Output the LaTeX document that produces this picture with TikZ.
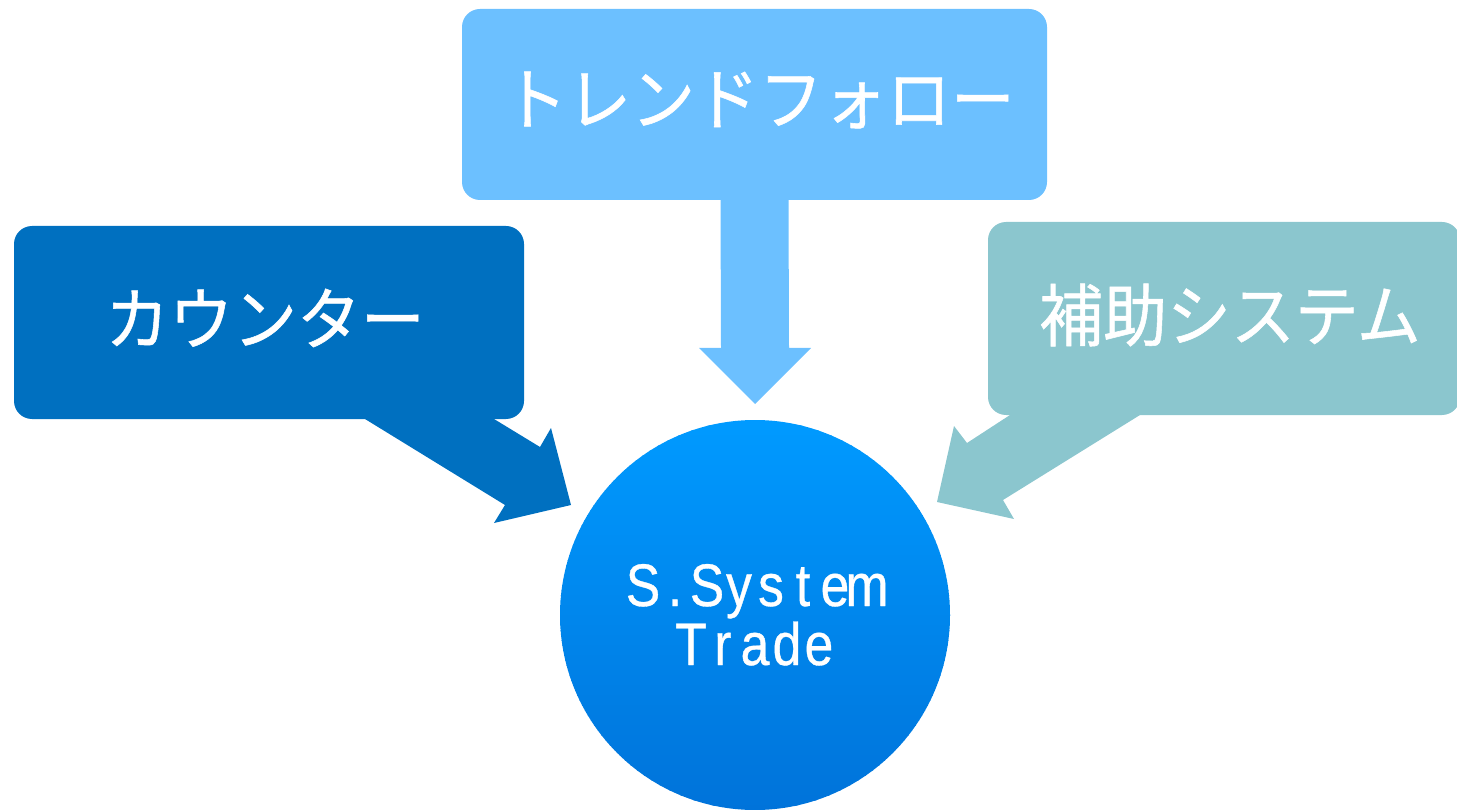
\documentclass[tikz,border=0pt]{standalone}
\usepackage{fontspec}
\newfontfamily\jp[FakeStretch=0.94,FakeBold=0.8]{Noto Sans CJK JP}
\newfontfamily\latn[FakeStretch=0.86,FakeBold=0.6]{Liberation Sans}
\newcommand\mc[1]{\makebox[32pt][c]{#1}}
\definecolor{trendc}{HTML}{6CC0FF}
\definecolor{counterc}{HTML}{0070C0}
\definecolor{auxc}{HTML}{8BC6CE}
\definecolor{circtop}{HTML}{009AFF}
\definecolor{circbot}{HTML}{0072D9}
\tikzset{
  box/.style={rounded corners=18pt, inner sep=0pt, draw=none},
  jplabel/.style={text=white, inner sep=0pt, font=\jp\fontsize{68pt}{72pt}\selectfont},
  latlabel/.style={text=white, inner sep=0pt, anchor=base, font=\latn\fontsize{60pt}{60pt}\selectfont},
}
\begin{document}
\begin{tikzpicture}[x=1pt,y=-1pt]
\useasboundingbox (0,0) rectangle (1457,810);
% circle with vertical gradient (stripes clipped to the disc)
\node[circle, minimum size=390pt, inner sep=0pt, draw=none] (core) at (755,615) {};
\begin{scope}
  \clip (core.center) circle[radius=195pt];
  \foreach \i in {0,...,79} {
    \pgfmathsetmacro\pct{\i*100/79}
    \fill[circbot!\pct!circtop] (555,{420+\i*5-0.5}) rectangle (955,{420+\i*5+5.5});
  }
\end{scope}
% boxes
\node[box, fill=trendc, minimum width=585pt, minimum height=191pt] (trend) at (754.5,104.5) {};
\node[box, fill=counterc, minimum width=510pt, minimum height=193pt] (counter) at (269,322.5) {};
\node[box, fill=auxc, minimum width=472pt, minimum height=193pt] (aux) at (1224,318.5) {};
% block arrows
\coordinate (ttip) at (755,404);
\fill[trendc] ([xshift=-34pt,yshift=5pt]trend.south) -- (721,348) -- (699,348) -- (ttip) -- (811,348) -- (789,348) -- ([xshift=34pt,yshift=5pt]trend.south) -- cycle;
\coordinate (ctip) at (571,505);
\fill[counterc] (365,410) -- (365,419) -- (505,505) -- (494,523) -- (ctip) -- (551,428) -- (540,447) -- (494,419) -- (494,410) -- cycle;
\coordinate (atip) at (937,502);
\fill[auxc] (1010,405) -- (1010,415) -- (967,443) -- (954,426) -- (atip) -- (1014,519) -- (1003,500) -- (1140,415) -- (1140,405) -- cycle;
% labels
\node[jplabel] (trendtext) at (759,100) {トレンドフォロー};
\node[jplabel] (countertext) at (265,318) {カウンター};
\node[jplabel] (auxtext) at (1230,315) {補助システム};
\node[latlabel] (line1) at (755,606) {\mc{S}\mc{.}\mc{S}\mc{y}\mc{s}\mc{t}\mc{e}\mc{m}};
\node[latlabel] (line2) at (755,665) {\mc{T}\mc{r}\mc{a}\mc{d}\mc{e}};
\end{tikzpicture}
\end{document}
